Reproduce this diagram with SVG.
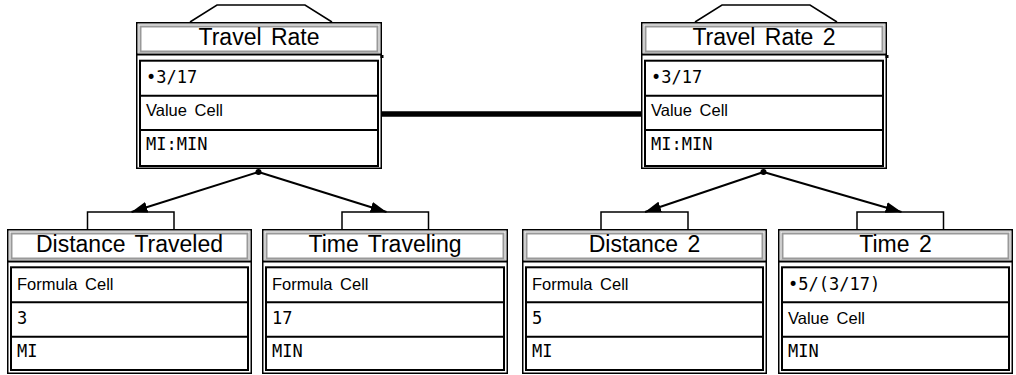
<svg xmlns="http://www.w3.org/2000/svg" width="1016" height="375" viewBox="0 0 1016 375">
<defs>
<style>
.frame{fill:#fff;stroke:#000;stroke-width:1.5}
.tl{fill:none;stroke:#cfcfcf;stroke-width:1}
.tg{fill:none;stroke:#999;stroke-width:2}
.sep{stroke:#000;stroke-width:2}
.rows{fill:none;stroke:#000;stroke-width:2}
.rl{stroke:#000;stroke-width:2}
.title{font-family:"Liberation Sans",Arial,sans-serif;font-size:23px;word-spacing:3px;text-anchor:middle;fill:#000}
.txt{font-family:"Liberation Sans",Arial,sans-serif;font-size:16.5px;word-spacing:3px;fill:#000}
.mono{font-family:"DejaVu Sans Mono","Liberation Mono",monospace;font-size:17px;fill:#000}
.deco{fill:none;stroke:#000;stroke-width:1.5}
.conn{fill:none;stroke:#000;stroke-width:2}
</style>
<marker id="ah" markerUnits="userSpaceOnUse" markerWidth="17" markerHeight="11" refX="16" refY="5.5" orient="auto">
<path d="M0,0 L16,5.5 L0,11 z" fill="#000"/>
</marker>
</defs>
<rect width="1016" height="375" fill="#fff"/>

<g id="connectors">
<line x1="382" y1="114" x2="641" y2="114" stroke="#000" stroke-width="5.5"/>
<line class="conn" x1="258.5" y1="172" x2="131.5" y2="212" marker-end="url(#ah)"/>
<line class="conn" x1="258.5" y1="172" x2="386.5" y2="212" marker-end="url(#ah)"/>
<line class="conn" x1="763.5" y1="172" x2="645" y2="212" marker-end="url(#ah)"/>
<line class="conn" x1="763.5" y1="172" x2="901.5" y2="212" marker-end="url(#ah)"/>
<circle cx="258.5" cy="172" r="3"/>
<circle cx="763.5" cy="172" r="3"/>
</g>

<g id="travel-rate">
<polyline class="deco" points="190,22 217,5 305,5 332,22"/>
<g transform="translate(136,22)">
<rect class="frame" x="0.75" y="0.75" width="244.5" height="145.5"/>
<rect class="tl" x="2.5" y="2.5" width="241" height="28"/>
<rect class="tg" x="4.5" y="4.5" width="237" height="25"/>
<line class="sep" x1="0" y1="32.5" x2="246" y2="32.5"/>
<rect class="rows" x="4" y="38.7" width="238" height="105.3"/>
<line class="rl" x1="4" y1="73.7" x2="242" y2="73.7"/>
<line class="rl" x1="4" y1="108" x2="242" y2="108"/>
<rect x="244.5" y="33" width="3" height="3"/>
<text class="title" x="123" y="23">Travel Rate</text>
<text class="mono" x="10" y="61">•3/17</text>
<text class="txt" x="10" y="94">Value Cell</text>
<text class="mono" x="10" y="128">MI:MIN</text>
</g>
</g>

<g id="travel-rate-2">
<polyline class="deco" points="695,22 722,5 810,5 837,22"/>
<g transform="translate(641,22)">
<rect class="frame" x="0.75" y="0.75" width="244.5" height="145.5"/>
<rect class="tl" x="2.5" y="2.5" width="241" height="28"/>
<rect class="tg" x="4.5" y="4.5" width="237" height="25"/>
<line class="sep" x1="0" y1="32.5" x2="246" y2="32.5"/>
<rect class="rows" x="4" y="38.7" width="238" height="105.3"/>
<line class="rl" x1="4" y1="73.7" x2="242" y2="73.7"/>
<line class="rl" x1="4" y1="108" x2="242" y2="108"/>
<rect x="244.5" y="33" width="3" height="3"/>
<text class="title" x="123" y="23">Travel Rate 2</text>
<text class="mono" x="10" y="61">•3/17</text>
<text class="txt" x="10" y="94">Value Cell</text>
<text class="mono" x="10" y="128">MI:MIN</text>
</g>
</g>

<g id="distance-traveled">
<polyline class="deco" points="87.5,229 87.5,212 174,212 174,229"/>
<g transform="translate(7,229)">
<rect class="frame" x="0.75" y="0.75" width="243.5" height="143.5"/>
<rect class="tl" x="2.5" y="2.5" width="240" height="28"/>
<rect class="tg" x="4.5" y="4.5" width="236" height="25"/>
<line class="sep" x1="0" y1="32.5" x2="245" y2="32.5"/>
<rect class="rows" x="4" y="38.3" width="237" height="102.7"/>
<line class="rl" x1="4" y1="73.3" x2="241" y2="73.3"/>
<line class="rl" x1="4" y1="107.7" x2="241" y2="107.7"/>
<text class="title" x="122.5" y="23">Distance Traveled</text>
<text class="txt" x="10" y="60.5">Formula Cell</text>
<text class="mono" x="10" y="94.5">3</text>
<text class="mono" x="10" y="128">MI</text>
</g>
</g>

<g id="time-traveling">
<polyline class="deco" points="342,229 342,212 428.5,212 428.5,229"/>
<g transform="translate(262,229)">
<rect class="frame" x="0.75" y="0.75" width="244.5" height="143.5"/>
<rect class="tl" x="2.5" y="2.5" width="241" height="28"/>
<rect class="tg" x="4.5" y="4.5" width="237" height="25"/>
<line class="sep" x1="0" y1="32.5" x2="246" y2="32.5"/>
<rect class="rows" x="4" y="38.3" width="238" height="102.7"/>
<line class="rl" x1="4" y1="73.3" x2="242" y2="73.3"/>
<line class="rl" x1="4" y1="107.7" x2="242" y2="107.7"/>
<text class="title" x="123" y="23">Time Traveling</text>
<text class="txt" x="10" y="60.5">Formula Cell</text>
<text class="mono" x="10" y="94.5">17</text>
<text class="mono" x="10" y="128">MIN</text>
</g>
</g>

<g id="distance-2">
<polyline class="deco" points="601,229 601,212 688,212 688,229"/>
<g transform="translate(522,229)">
<rect class="frame" x="0.75" y="0.75" width="243.5" height="143.5"/>
<rect class="tl" x="2.5" y="2.5" width="240" height="28"/>
<rect class="tg" x="4.5" y="4.5" width="236" height="25"/>
<line class="sep" x1="0" y1="32.5" x2="245" y2="32.5"/>
<rect class="rows" x="4" y="38.3" width="237" height="102.7"/>
<line class="rl" x1="4" y1="73.3" x2="241" y2="73.3"/>
<line class="rl" x1="4" y1="107.7" x2="241" y2="107.7"/>
<text class="title" x="122.5" y="23">Distance 2</text>
<text class="txt" x="10" y="60.5">Formula Cell</text>
<text class="mono" x="10" y="94.5">5</text>
<text class="mono" x="10" y="128">MI</text>
</g>
</g>

<g id="time-2">
<polyline class="deco" points="857,229 857,212 943.5,212 943.5,229"/>
<g transform="translate(778,229)">
<rect class="frame" x="0.75" y="0.75" width="233.5" height="143.5"/>
<rect class="tl" x="2.5" y="2.5" width="230" height="28"/>
<rect class="tg" x="4.5" y="4.5" width="226" height="25"/>
<line class="sep" x1="0" y1="32.5" x2="235" y2="32.5"/>
<rect class="rows" x="4" y="38.3" width="227" height="102.7"/>
<line class="rl" x1="4" y1="73.3" x2="231" y2="73.3"/>
<line class="rl" x1="4" y1="107.7" x2="231" y2="107.7"/>
<text class="title" x="117.5" y="23">Time 2</text>
<text class="mono" x="10" y="60.5">•5/(3/17)</text>
<text class="txt" x="10" y="94.5">Value Cell</text>
<text class="mono" x="10" y="128">MIN</text>
</g>
</g>
</svg>
